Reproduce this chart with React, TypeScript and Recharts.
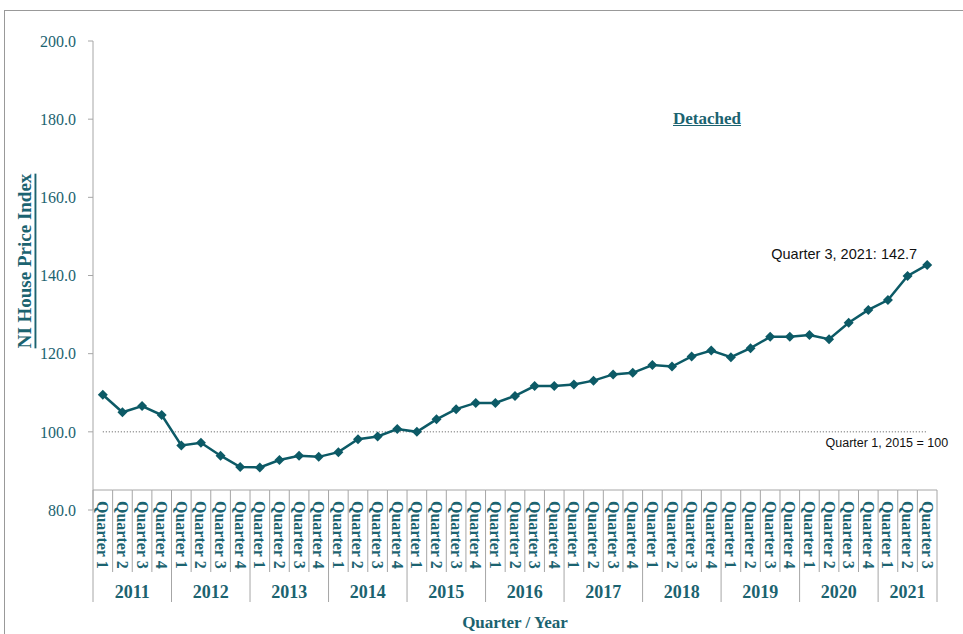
import { LineChart, Line, XAxis, YAxis } from 'recharts'

const years = [2011, 2012, 2013, 2014, 2015, 2016, 2017, 2018, 2019, 2020, 2021]
const quartersPerYear = [4, 4, 4, 4, 4, 4, 4, 4, 4, 4, 3]
const quarterNames = ['Quarter 1', 'Quarter 2', 'Quarter 3', 'Quarter 4']
const hpi = [
  109.5, 105.0, 106.6, 104.3,
  96.5, 97.2, 93.9, 91.0,
  90.9, 92.8, 93.9, 93.6,
  94.8, 98.1, 98.8, 100.7,
  100.0, 103.2, 105.8, 107.4,
  107.4, 109.2, 111.7, 111.7,
  112.1, 113.1, 114.7, 115.1,
  117.1, 116.7, 119.3, 120.8,
  119.1, 121.4, 124.3, 124.3,
  124.8, 123.7, 127.9, 131.2,
  133.7, 139.9, 142.7,
]
const baseValue = 100
const yTicks = [80, 100, 120, 140, 160, 180, 200]

const TEAL = '#0c5a66'
const TEXT = '#1b6370'
const GRID = '#a6a6a6'
const SERIF = '"Liberation Serif", Cambria, serif'
const SANS = '"Liberation Sans", Calibri, sans-serif'

const data: { idx: number; year: number; q: number; nYear: number; hpi: number; base: number }[] = []
years.forEach((year, yi) => {
  for (let q = 0; q < quartersPerYear[yi]; q++) {
    const idx = data.length
    data.push({ idx, year, q, nYear: quartersPerYear[yi], hpi: hpi[idx], base: baseValue })
  }
})
const lastIdx = data.length - 1

const PLOT_W = 844
const BAND = PLOT_W / data.length

function QuarterTick(props: any) {
  const { x, y, payload } = props
  const d = data[payload.value]
  if (!d) return null
  const w = BAND / 2
  const top = y - 20
  const isLast = d.idx === lastIdx
  return (
    <g>
      <line x1={x - w} x2={x + w} y1={top} y2={top} stroke={GRID} />
      <line x1={x - w} x2={x - w} y1={top} y2={d.q === 0 ? y + 92 : y + 62} stroke={GRID} />
      {isLast && <line x1={x + w} x2={x + w} y1={top} y2={y + 92} stroke={GRID} />}
      <text
        x={x}
        y={y - 9}
        transform={`rotate(90, ${x}, ${y - 9})`}
        textAnchor="start"
        dominantBaseline="central"
        fontFamily={SERIF}
        fontSize={16}
        fontWeight="bold"
        fill={TEXT}
      >
        {quarterNames[d.q]}
      </text>
      {d.q === 0 && (
        <text
          x={x + ((d.nYear - 1) * BAND) / 2}
          y={y + 88}
          textAnchor="middle"
          fontFamily={SERIF}
          fontSize={18}
          fontWeight="bold"
          fill={TEXT}
        >
          {d.year}
        </text>
      )}
    </g>
  )
}

function Diamond(props: any) {
  const { cx, cy } = props
  if (cx == null || cy == null) return null
  const r = 5
  return <polygon points={`${cx},${cy - r} ${cx + r},${cy} ${cx},${cy + r} ${cx - r},${cy}`} fill={TEAL} />
}

function LastLabel(props: any) {
  const { x, y, index, value } = props
  if (index !== lastIdx) return null
  return (
    <text x={x - 10} y={y - 6} textAnchor="end" fontFamily={SANS} fontSize={14.5} fill="#111">
      {`Quarter 3, 2021: ${value.toFixed(1)}`}
    </text>
  )
}

function BaseLabel(props: any) {
  const { x, y, index } = props
  if (index !== lastIdx) return null
  return (
    <text x={x + 21} y={y + 15} textAnchor="end" fontFamily={SANS} fontSize={12.5} fill="#111">
      Quarter 1, 2015 = 100
    </text>
  )
}

export default function App() {
  return (
    <div style={{ position: 'absolute', left: 0, top: 0, width: 963, height: 634, background: '#fff' }}>
      <div
        style={{
          position: 'absolute',
          left: 4,
          top: 10,
          right: 0,
          bottom: 0,
          borderTop: '1px solid #999',
          borderLeft: '1px solid #999',
        }}
      />
      <div
        style={{
          position: 'absolute',
          left: 607,
          top: 109,
          width: 200,
          textAlign: 'center',
          fontFamily: SERIF,
          fontWeight: 'bold',
          fontSize: 17,
          color: TEXT,
          textDecoration: 'underline',
        }}
      >
        Detached
      </div>
      <LineChart
        width={963}
        height={634}
        data={data}
        margin={{ top: 41, right: 26, left: 0, bottom: 0 }}
        style={{ position: 'absolute', left: 0, top: 0 }}
      >
        <XAxis
          dataKey="idx"
          type="number"
          domain={[-0.5, data.length - 0.5]}
          ticks={data.map(d => d.idx)}
          interval={0}
          tick={<QuarterTick />}
          tickLine={false}
          axisLine={false}
          tickSize={0}
          tickMargin={0}
          height={124}
          label={{
            content: (p: any) => (
              <text
                x={p.viewBox.x + p.viewBox.width / 2}
                y={p.viewBox.y + 118}
                textAnchor="middle"
                fontFamily={SERIF}
                fontSize={17}
                fontWeight="bold"
                fill={TEXT}
              >
                Quarter / Year
              </text>
            ),
          }}
        />
        <YAxis
          domain={[80, 200]}
          ticks={yTicks}
          width={93}
          tickFormatter={(v: number) => v.toFixed(1)}
          tick={{ fontFamily: SERIF, fontSize: 16, fill: TEXT }}
          tickSize={5}
          tickMargin={12}
          stroke={GRID}
          label={{
            content: (p: any) => {
              const cx = p.viewBox.x + 24
              const cy = p.viewBox.y + 220
              return (
                <text
                  x={cx}
                  y={cy}
                  transform={`rotate(-90, ${cx}, ${cy})`}
                  textAnchor="middle"
                  dominantBaseline="central"
                  fontFamily={SERIF}
                  fontSize={19}
                  fontWeight="bold"
                  fill={TEXT}
                  textDecoration="underline"
                >
                  NI House Price Index
                </text>
              )
            },
          }}
        />
        <Line
          dataKey="base"
          stroke="#555"
          strokeWidth={1}
          strokeDasharray="1 2"
          dot={false}
          activeDot={false}
          isAnimationActive={false}
          label={<BaseLabel />}
        />
        <Line
          dataKey="hpi"
          stroke={TEAL}
          strokeWidth={2.5}
          dot={<Diamond />}
          activeDot={false}
          isAnimationActive={false}
          label={<LastLabel />}
        />
      </LineChart>
    </div>
  )
}
